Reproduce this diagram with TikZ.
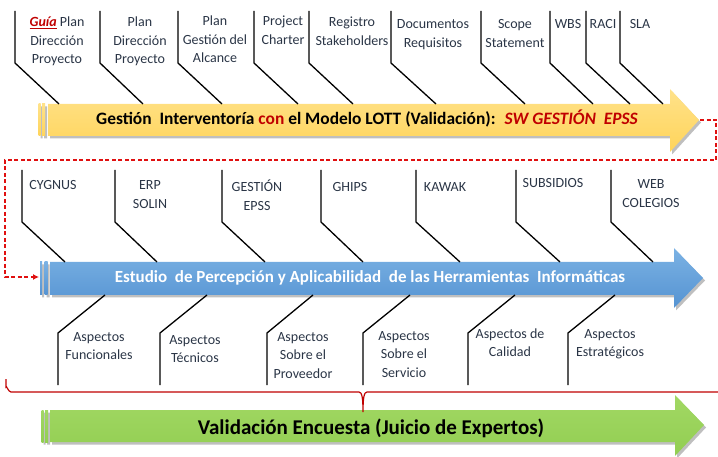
\documentclass[tikz,border=0pt]{standalone}
\usepackage{fontspec}
\setmainfont{Carlito}
\usetikzlibrary{arrows.meta}
\definecolor{txt}{HTML}{2A3546}
\definecolor{redc}{HTML}{C00000}
\definecolor{dashred}{HTML}{E01010}
\definecolor{ytop}{HTML}{FFE28A}
\definecolor{ybot}{HTML}{FFD45A}
\definecolor{btop}{HTML}{7BB2E4}
\definecolor{bbot}{HTML}{5593D2}
\definecolor{gtop}{HTML}{A2D864}
\definecolor{gbot}{HTML}{92CE52}
\begin{document}
\begin{tikzpicture}[x=1pt,y=-1pt,
  lbl/.style={font=\fontsize{14}{18.5}\selectfont, text=txt, align=center, inner sep=0pt, anchor=base},
  branch/.style={line width=1.3pt, black},
  shadowp/.style={fill=black, opacity=0.25},
  ttl/.style={font=\bfseries\fontsize{17}{20}\selectfont, inner sep=0pt, anchor=base}]
\useasboundingbox (0,0) rectangle (718,457);

% ---------- yellow arrow ----------
\fill[shadowp] (40.5,106.5) rectangle (42.5,138.5) (44,106.5) rectangle (47,138.5)
  (50,106.5) -- (672,106.5) -- (672,91.5) -- (701,122.5) -- (672,154.5) -- (672,138.5) -- (50,138.5) -- cycle;
\shade[top color=ytop, bottom color=ybot] (38.5,104) rectangle (40.5,136);
\shade[top color=ytop, bottom color=ybot] (42,104) rectangle (45,136);
\shade[top color=ytop, bottom color=ybot] (48,104) -- (670,104) -- (670,89) -- (699,120) -- (670,152) -- (670,136) -- (48,136) -- cycle;
\node[ttl, font=\bfseries\fontsize{17.4}{20}\selectfont] (t1) at (367,125) {Gestión\ \ Interventoría \textcolor{redc}{con} el Modelo LOTT (Validación): \ \textcolor{redc}{\itshape SW GESTIÓN\ \ EPSS}};

% ---------- blue arrow ----------
\fill[shadowp] (42,264.5) rectangle (44,297.5) (46.5,264.5) rectangle (49.5,297.5)
  (52,264.5) -- (676,264.5) -- (676,250.5) -- (705,280.5) -- (676,310.5) -- (676,297.5) -- (52,297.5) -- cycle;
\shade[top color=btop, bottom color=bbot] (40,262) rectangle (42,295);
\shade[top color=btop, bottom color=bbot] (44.5,262) rectangle (47.5,295);
\shade[top color=btop, bottom color=bbot] (50,262) -- (674,262) -- (674,248) -- (703,278) -- (674,308) -- (674,295) -- (50,295) -- cycle;
\node[ttl, text=white] (t2) at (370,283) {Estudio\ \ de Percepción y Aplicabilidad\ \ de las Herramientas\ \ Informáticas};

% ---------- green arrow ----------
\fill[shadowp] (43.5,412.5) rectangle (45.5,444.5) (47,412.5) rectangle (50,444.5)
  (52,412.5) -- (677,412.5) -- (677,397.5) -- (706,427.5) -- (677,458.5) -- (677,444.5) -- (52,444.5) -- cycle;
\shade[top color=gtop, bottom color=gbot] (41.5,410) rectangle (43.5,442);
\shade[top color=gtop, bottom color=gbot] (45,410) rectangle (48,442);
\shade[top color=gtop, bottom color=gbot] (50,410) -- (675,410) -- (675,395) -- (704,425) -- (675,456) -- (675,442) -- (50,442) -- cycle;
\node[ttl, font=\bfseries\fontsize{21}{24}\selectfont, text=black] (t3) at (371,434) {Validación Encuesta (Juicio de Expertos)};

% ---------- red dashed connector ----------
\coordinate (dA) at (700,120);
\coordinate (dB) at (716,160);
\coordinate (dC) at (5,277);
\coordinate (dD) at (39,277);
\draw[dashred, line width=1.3pt, dash pattern=on 4pt off 2.5pt, -{Latex[length=6pt,width=6pt]}]
  (dA) -| (dB) -| (dC) -- (dD);

% ---------- red brace ----------
\draw[redc, line width=1.2pt] (6,379) -- (6,387) to[out=90,in=180] (11,392) -- (359,392)
  .. controls (362,392) and (363,398) .. (363,412)
  .. controls (363,398) and (364,392) .. (367,392) -- (718,392);

% ---------- top branches ----------
\foreach \a/\b in {15/59,100/143,178/222,254/298,309/353,391/436,481/525,550/593,586/630,620/663}
  \draw[branch] (\a,11) -- (\a,63) -- (\b,104);
% ---------- middle branches ----------
\foreach \a/\b in {22/65,115/157,222/265,321/363,416/460,516/560,611/653}
  \draw[branch] (\a,170) -- (\a,222) -- (\b,262);
% ---------- bottom branches ----------
\foreach \a/\b in {105/58,207/160,313/267,410/363,515/468,615/568}
  \draw[branch] (\a,295) -- (\b,333) -- (\b,385);

% ---------- top labels (anchor = baseline of last line) ----------
\node[lbl] (l1) at (57,64) {\textcolor{redc}{\underline{\textbf{\textit{Guía}}}} Plan\\Dirección\\Proyecto};
\node[lbl] (l2) at (140,64) {Plan\\Dirección\\Proyecto};
\node[lbl] (l3) at (215,63) {Plan\\Gestión del\\Alcance};
\node[lbl] (l4) at (283,44.5) {Project\\Charter};
\node[lbl] (l5) at (352,45.5) {Registro\\Stakeholders};
\node[lbl] (l6) at (433,47.5) {Documentos\\Requisitos};
\node[lbl] (l7) at (515,47.5) {Scope\\Statement};
\node[lbl] (l8) at (568,29) {WBS};
\node[lbl] (l9) at (603,29) {RACI};
\node[lbl] (l10) at (640,29) {SLA};

% ---------- middle labels ----------
\node[lbl] (m1) at (53,190) {CYGNUS};
\node[lbl] (m2) at (150,208.5) {ERP\\SOLIN};
\node[lbl] (m3) at (257,210.5) {GESTIÓN\\EPSS};
\node[lbl] (m4) at (350,192) {GHIPS};
\node[lbl] (m5) at (445,192) {KAWAK};
\node[lbl] (m6) at (553,188) {SUBSIDIOS};
\node[lbl] (m7) at (651,207.5) {WEB\\COLEGIOS};

% ---------- bottom labels ----------
\node[lbl] (b1) at (99,359.5) {Aspectos\\Funcionales};
\node[lbl] (b2) at (195,362.5) {Aspectos\\Técnicos};
\node[lbl] (b3) at (303,378) {Aspectos\\Sobre el\\Proveedor};
\node[lbl] (b4) at (404,377) {Aspectos\\Sobre el\\Servicio};
\node[lbl] (b5) at (510,356.5) {Aspectos de\\Calidad};
\node[lbl] (b6) at (610,356.5) {Aspectos\\Estratégicos};
\end{tikzpicture}
\end{document}
